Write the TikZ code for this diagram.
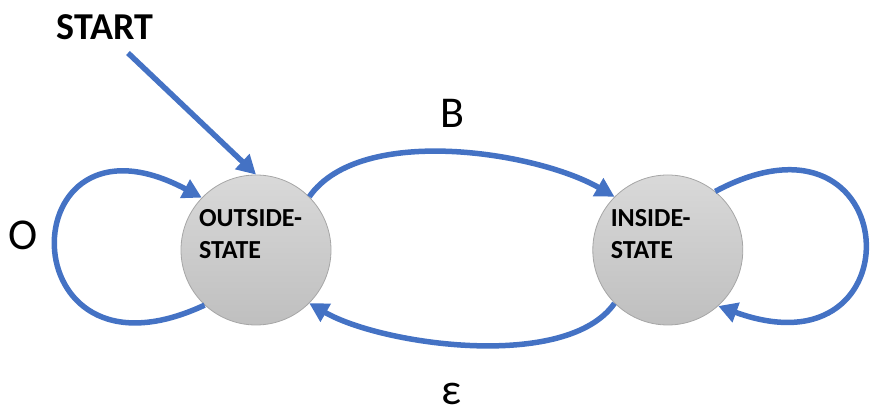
\documentclass[tikz,border=0pt]{standalone}
\usepackage{fontspec}
\setmainfont{Carlito}
\usetikzlibrary{arrows.meta,positioning}
\definecolor{Edge}{HTML}{4472C4}
\definecolor{Rim}{HTML}{A6A6A6}
\definecolor{ShadeTop}{HTML}{D9D9D9}
\definecolor{ShadeBot}{HTML}{BFBFBF}
\begin{document}
\begin{tikzpicture}[x=1pt,y=1pt,node distance=261pt,
state/.style={circle,draw=Rim,line width=0.8pt,top color=ShadeTop,bottom color=ShadeBot,minimum size=150pt,inner sep=0pt,text width=114pt,align=left,font=\fontsize{26}{32}\selectfont\bfseries},
head/.style={inner sep=0pt,font=\fontsize{38}{42}\selectfont\bfseries},
lbl/.style={inner sep=0pt,font=\fontsize{44}{48}\selectfont},
arr/.style={-{Triangle[length=19pt,width=20pt]},line width=5.5pt,draw=Edge}]
\useasboundingbox (0,0) rectangle (870,414);
\node[state] (outs) at (256,164) {OUTSIDE-\\STATE\\\mbox{}};
\node[state,right=of outs] (ins) {INSIDE-\\STATE\\\mbox{}};
\node[head] (start) at (105,387) {START};
\coordinate (go) at (128,361);
\draw[arr] (go) -- (outs.north);
\draw[arr] (outs.45) to[out=55,in=150,looseness=0.75] node[lbl,midway,above=22pt] {B} (ins.135);
\draw[arr] (ins.225) to[out=235,in=330,looseness=0.7] node[lbl,midway,below=36pt,xshift=-20pt] {ε} (outs.315);
\draw[arr] (outs.227) to[out=205,in=152,looseness=5.2] node[lbl,midway,left=16pt,yshift=12pt] {O} (outs.136);
\draw[arr] (ins.51) to[out=28,in=-20,looseness=4.8] (ins.-48);
\end{tikzpicture}
\end{document}
